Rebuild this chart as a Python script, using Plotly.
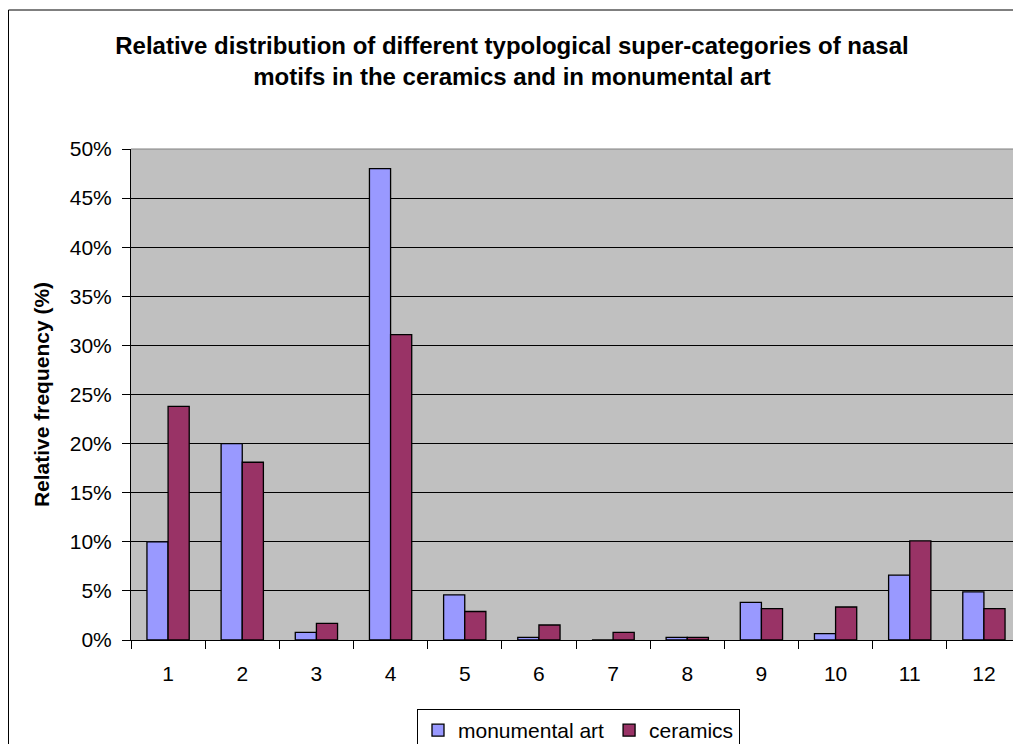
import plotly.graph_objects as go

categories = [1, 2, 3, 4, 5, 6, 7, 8, 9, 10, 11, 12]
monumental_art = [10.0, 20.0, 0.78, 48.0, 4.6, 0.27, 0.0, 0.27, 3.84, 0.65, 6.6, 4.9]
ceramics = [23.8, 18.1, 1.7, 31.1, 2.9, 1.53, 0.78, 0.27, 3.2, 3.36, 10.1, 3.2]
y_ticks = [0, 5, 10, 15, 20, 25, 30, 35, 40, 45, 50]

FONT = "Liberation Sans, Arial, sans-serif"

W, H = 1013, 736          # page body has an 8px margin
L, R, T, B = 123, 0, 141, 104
PW, PH = W - L - R, H - T - B

fig = go.Figure()
fig.add_trace(go.Bar(x=categories, y=monumental_art, name="monumental art",
                     marker=dict(color="#9999FF", line=dict(color="black", width=1.3))))
fig.add_trace(go.Bar(x=categories, y=ceramics, name="ceramics",
                     marker=dict(color="#993366", line=dict(color="black", width=1.3))))

fig.update_layout(
    width=W, height=H,
    margin=dict(l=L, r=R, t=T, b=B, pad=0, autoexpand=False),
    paper_bgcolor="white", plot_bgcolor="#C0C0C0",
    font=dict(family=FONT, size=21, color="black"),
    barmode="group", bargap=0.43, bargroupgap=0,
    title=dict(text="<b>Relative distribution of different typological super-categories of nasal<br>motifs in the ceramics and in monumental art</b>",
               x=504 / W, xanchor="center", xref="container",
               y=1 - 46 / H, yanchor="top", yref="container",
               font=dict(family=FONT, size=24)),
    showlegend=True,
    legend=dict(orientation="h", x=(409 - L) / PW, xanchor="left",
                y=(H - B - 701) / PH, yanchor="top",
                bordercolor="black", borderwidth=1, font=dict(size=21),
                itemwidth=30, traceorder="normal"),
    xaxis=dict(range=[0.5, 12.5], tickmode="array", tickvals=categories,
               ticktext=[str(c) for c in categories], ticks="",
               showgrid=False, showline=True, linecolor="black", linewidth=1,
               zeroline=False, tickfont=dict(size=21), ticklabelstandoff=15,
               minor=dict(tickvals=[c + 0.5 for c in [0] + categories], ticks="outside",
                          ticklen=8, tickcolor="black", showgrid=False)),
    yaxis=dict(range=[0, 50], tickmode="array", tickvals=y_ticks,
               ticktext=[f"{v}%" for v in y_ticks], ticks="outside", ticklen=8,
               tickcolor="black", showgrid=True, gridcolor="black", gridwidth=1,
               showline=True, linecolor="black", linewidth=1, zeroline=False,
               ticklabelstandoff=6,
               title=dict(text="<b>Relative frequency (%)</b>", font=dict(size=21), standoff=14),
               tickfont=dict(size=21)),
    shapes=[
        dict(type="rect", xref="paper", yref="paper",
             x0=(0.5 - L) / PW, x1=(W + 20 - L) / PW,
             y0=(H - B - (H + 20)) / PH, y1=(H - B - 2) / PH,
             line=dict(color="black", width=1), fillcolor="rgba(0,0,0,0)", layer="below"),
        dict(type="line", xref="paper", yref="paper", x0=0, x1=1, y0=1, y1=1,
             line=dict(color="#808080", width=1)),
    ],
)

fig.write_html("out.html")
